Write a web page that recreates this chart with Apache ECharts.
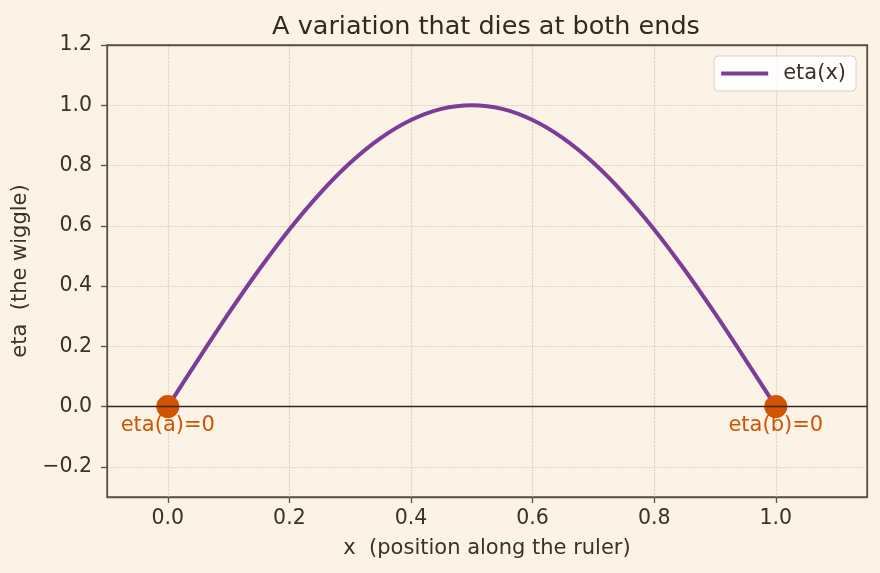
<!DOCTYPE html>
<html>
<head>
<meta charset="utf-8">
<script src="https://cdn.jsdelivr.net/npm/echarts@6/dist/echarts.min.js"></script>
<style>
  html, body { margin: 0; padding: 0; background: #faf3e6; }
  #chart { width: 880px; height: 573px; }
</style>
</head>
<body>
<div id="chart"></div>
<script>
  // values
  const xValues = [0, 0.05, 0.1, 0.15, 0.2, 0.25, 0.3, 0.35, 0.4, 0.45, 0.5,
                   0.55, 0.6, 0.65, 0.7, 0.75, 0.8, 0.85, 0.9, 0.95, 1.0]
  const etaValues = [0, 0.156, 0.309, 0.454, 0.588, 0.707, 0.809, 0.891, 0.951, 0.988, 1.0,
                     0.988, 0.951, 0.891, 0.809, 0.707, 0.588, 0.454, 0.309, 0.156, 0]
  const endPoints = [[0, 0, 'eta(a)=0'], [1, 0, 'eta(b)=0']]
  const xTicks = [0, 0.2, 0.4, 0.6, 0.8, 1.0]
  const yTicks = [-0.2, 0, 0.2, 0.4, 0.6, 0.8, 1.0, 1.2]

  const textColor = '#3b3128'
  const axisColor = '#5c5142'
  const font = "'DejaVu Sans', sans-serif"

  // top and right spines, drawn as bare axis lines
  const spine = {
    type: 'value',
    axisLine: { show: true, onZero: false, lineStyle: { color: axisColor, width: 1.3 } },
    axisTick: { show: false },
    axisLabel: { show: false },
    splitLine: { show: false }
  }

  const myChart = echarts.init(document.getElementById('chart'))
  const option = {
    backgroundColor: '#faf3e6',
    animation: false,
    textStyle: { fontFamily: font, color: textColor },
    title: {
      text: 'A variation that dies at both ends',
      left: 481,
      textAlign: 'center',
      top: 9,
      textStyle: { fontFamily: font, fontSize: 25.5, fontWeight: 'normal', color: '#33291f' }
    },
    legend: {
      data: [{ name: 'eta(x)', icon: 'rect' }],
      right: 24,
      top: 56,
      itemWidth: 47,
      itemHeight: 4,
      padding: [7, 10, 7, 7],
      itemGap: 10,
      backgroundColor: 'rgba(255,255,255,0.85)',
      borderColor: '#d6d0c6',
      borderWidth: 1,
      borderRadius: 4,
      textStyle: { fontFamily: font, fontSize: 21, color: textColor, padding: [0, 0, 0, 10] }
    },
    grid: {
      left: 107,
      right: 13,
      top: 45,
      bottom: 76,
      show: true,
      borderColor: axisColor,
      borderWidth: 1.3,
      backgroundColor: 'transparent'
    },
    xAxis: [
      {
        type: 'value',
        min: -0.1,
        max: 1.15,
        name: 'x  (position along the ruler)',
        nameLocation: 'middle',
        nameGap: 41,
        nameTextStyle: { fontFamily: font, fontSize: 21, color: textColor },
        axisLine: { show: true, onZero: false, lineStyle: { color: axisColor, width: 1.3 } },
        axisTick: { show: true, length: 6, customValues: xTicks, lineStyle: { color: axisColor, width: 1.3 } },
        axisLabel: {
          customValues: xTicks,
          margin: 11,
          fontFamily: font,
          fontSize: 20.5,
          color: textColor,
          formatter: v => v.toFixed(1)
        },
        splitLine: { show: true, lineStyle: { color: '#d3cab9', type: 'dotted', width: 1.2 } }
      },
      Object.assign({ position: 'top', min: -0.1, max: 1.15 }, spine)
    ],
    yAxis: [
      {
        type: 'value',
        min: -0.3,
        max: 1.2,
        name: 'eta  (the wiggle)',
        nameLocation: 'middle',
        nameGap: 72,
        nameTextStyle: { fontFamily: font, fontSize: 21, color: textColor },
        axisLine: { show: true, onZero: false, lineStyle: { color: axisColor, width: 1.3 } },
        axisTick: { show: true, length: 6, customValues: yTicks, lineStyle: { color: axisColor, width: 1.3 } },
        axisLabel: {
          customValues: yTicks,
          margin: 15,
          fontFamily: font,
          fontSize: 20.5,
          color: textColor,
          formatter: v => v.toFixed(1).replace('-', '\u2212')
        },
        splitLine: { show: true, lineStyle: { color: '#d3cab9', type: 'dotted', width: 1.2 } }
      },
      Object.assign({ position: 'right', min: -0.3, max: 1.2 }, spine)
    ],
    series: [
      {
        name: 'eta(x)',
        type: 'line',
        data: xValues.map((x, i) => [x, etaValues[i]]),
        smooth: 0.3,
        showSymbol: false,
        color: '#7d3c98',
        lineStyle: { width: 4, color: '#7d3c98' },
        markLine: {
          silent: true,
          symbol: 'none',
          label: { show: false },
          lineStyle: { color: '#33291f', width: 1.3, type: 'solid' },
          data: [{ yAxis: 0 }]
        },
        z: 3
      },
      {
        name: 'ends',
        type: 'scatter',
        data: endPoints,
        symbolSize: 23,
        itemStyle: { color: '#d35400', opacity: 1 },
        label: {
          show: true,
          position: 'inside',
          offset: [0, 19],
          formatter: p => p.data[2],
          fontFamily: font,
          fontSize: 21,
          color: '#d35400'
        },
        z: 4
      }
    ]
  }
  myChart.setOption(option)
</script>
</body>
</html>
